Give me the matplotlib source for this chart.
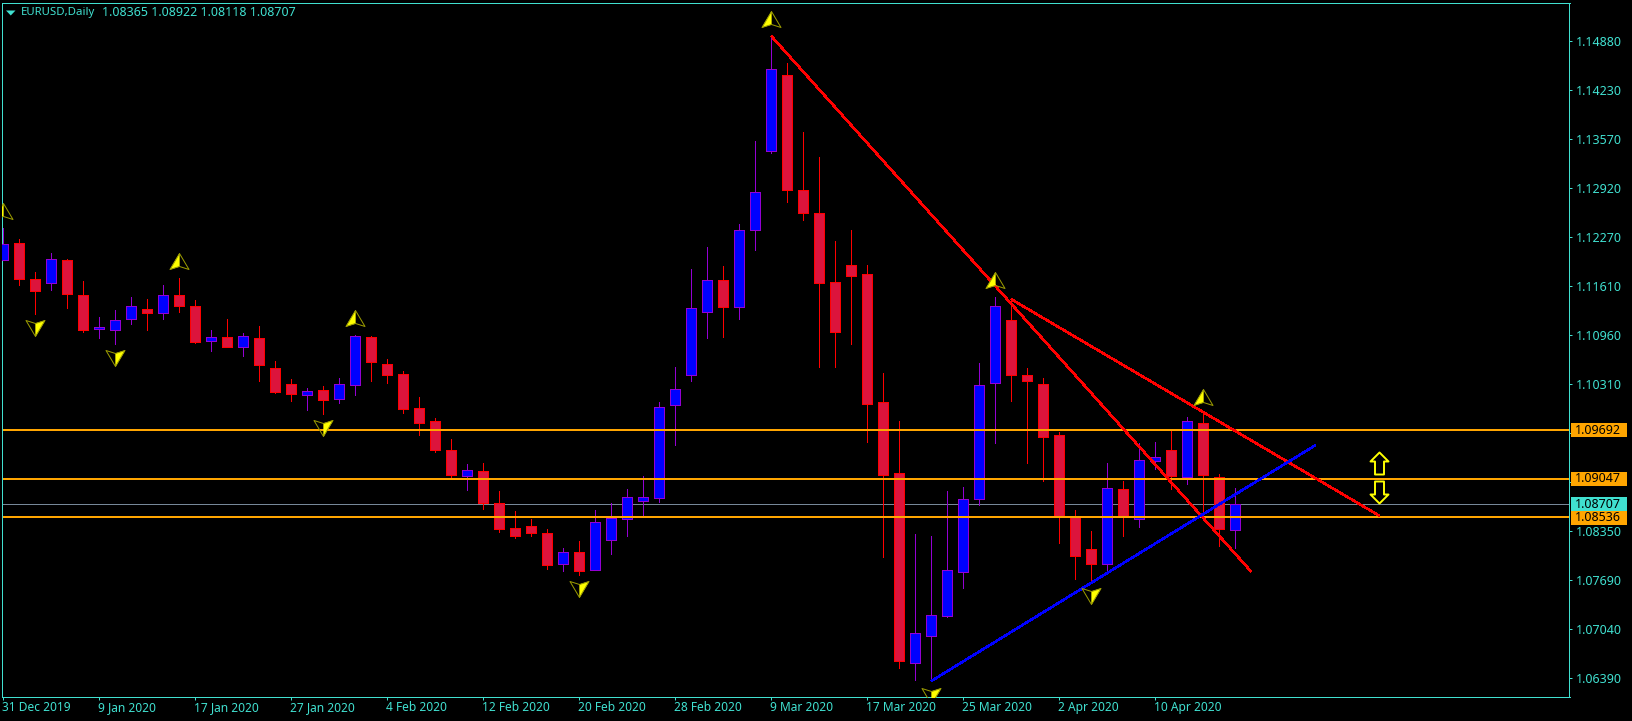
import numpy as np
import matplotlib
matplotlib.use("Agg")
import matplotlib.pyplot as plt
from matplotlib.path import Path
from matplotlib.patches import Rectangle, Polygon
from matplotlib.transforms import blended_transform_factory, ScaledTranslation

# ---- data (EURUSD daily, bar by bar) ----
highs = [1.12385,1.12243,1.11803,1.12056,1.11976,1.11683,1.11203,1.11296,1.11465,1.11443,
         1.11629,1.11719,1.11429,1.11029,1.11176,1.10985,1.11083,1.10616,1.10376,1.10252,
         1.10279,1.10385,1.10963,1.10949,1.10639,1.10479,1.10132,1.09852,1.09572,1.09239,
         1.09252,1.08879,1.08612,1.08509,1.08376,1.08119,1.08212,1.08629,1.08719,1.08909,
         1.09079,1.10065,1.10536,1.11843,1.12136,1.11883,1.12443,1.13549,1.14949,1.14585,
         1.13669,1.13336,1.12216,1.12363,1.11896,1.10456,1.09816,1.08309,1.08283,1.08883,
         1.08936,1.10589,1.11469,1.11439,1.10523,1.10389,1.09665,1.08629,1.08349,1.09256,
         1.09016,1.09523,1.09536,1.09683,1.09869,1.09919,1.09105,1.08922]
lows = [1.11963,1.11629,1.11247,1.11567,1.11327,1.11007,1.10927,1.10847,1.11113,1.11033,
        1.11176,1.11273,1.10856,1.10749,1.10807,1.10687,1.10349,1.10193,1.10083,1.09967,
        1.09913,1.10060,1.10167,1.10353,1.10327,1.09927,1.09633,1.09407,1.09073,1.08900,
        1.08647,1.08340,1.08256,1.08287,1.07843,1.07816,1.07763,1.07833,1.08043,1.08283,
        1.08549,1.08736,1.09496,1.10349,1.10927,1.10936,1.11176,1.12096,1.13389,1.12736,
        1.12496,1.10540,1.10540,1.10847,1.09540,1.08003,1.06527,1.06363,1.06349,1.07203,
        1.07589,1.08696,1.09523,1.10083,1.09260,1.09020,1.08193,1.07709,1.07669,1.07799,
        1.08283,1.08403,1.09176,1.08909,1.08976,1.08540,1.08149,1.08118]
opens = [1.11967,1.12185,1.11705,1.11660,1.11959,1.11492,1.11043,1.11033,1.11180,1.11305,
         1.11260,1.11492,1.11345,1.10887,1.10932,1.10807,1.10919,1.10519,1.10305,1.10167,
         1.10225,1.10113,1.10300,1.10932,1.10572,1.10443,1.09985,1.09812,1.09425,1.09087,
         1.09145,1.08719,1.08389,1.08416,1.08319,1.07905,1.08065,1.07833,1.08233,1.08513,
         1.08753,1.08793,1.10033,1.10425,1.11273,1.11692,1.11332,1.12367,1.13420,1.14425,
         1.12892,1.12585,1.11665,1.11892,1.11772,1.10065,1.09119,1.06585,1.06953,1.07220,
         1.07807,1.08780,1.10319,1.11159,1.10425,1.10305,1.09625,1.08532,1.08105,1.07913,
         1.08905,1.08505,1.09287,1.09425,1.09073,1.09785,1.09073,1.08365]
closes = [1.12172,1.11713,1.11553,1.11972,1.11513,1.11033,1.11069,1.11159,1.11345,1.11260,
          1.11492,1.11353,1.10873,1.10932,1.10807,1.10945,1.10567,1.10207,1.10180,1.10212,
          1.10100,1.10305,1.10945,1.10607,1.10433,1.09980,1.09793,1.09433,1.09100,1.09159,
          1.08727,1.08380,1.08287,1.08327,1.07900,1.08065,1.07820,1.08465,1.08527,1.08799,
          1.08799,1.09999,1.10239,1.11319,1.11692,1.11340,1.12359,1.12865,1.14505,1.12900,
          1.12593,1.11660,1.11007,1.11753,1.10047,1.09096,1.06620,1.06985,1.07225,1.07825,
          1.08772,1.10292,1.11345,1.10429,1.10353,1.09607,1.08549,1.08020,1.07913,1.08919,
          1.08549,1.09292,1.09332,1.09087,1.09812,1.09100,1.08380,1.08707]

x_tick_bars = [0, 6, 12, 18, 24, 30, 36, 42, 48, 54, 60, 66, 72]
x_tick_labels = ["31 Dec 2019", "9 Jan 2020", "17 Jan 2020", "27 Jan 2020", "4 Feb 2020",
                 "12 Feb 2020", "20 Feb 2020", "28 Feb 2020", "9 Mar 2020", "17 Mar 2020",
                 "25 Mar 2020", "2 Apr 2020", "10 Apr 2020"]
y_ticks = [1.06390, 1.07040, 1.07690, 1.08350, 1.09000, 1.09650, 1.10310, 1.10960,
           1.11610, 1.12270, 1.12920, 1.13570, 1.14230, 1.14880]
y_hidden = [1.09000, 1.09650]

level_lines = [1.09692, 1.09047, 1.08536]
bid = 1.08707

up_bars = [0, 11, 22, 48, 62, 75]
up_prices = [1.12620, 1.11956, 1.11191, 1.15180, 1.11700, 1.10138]
down_bars = [2, 7, 20, 36, 58, 68]
down_prices = [1.11054, 1.10656, 1.09721, 1.07574, 1.06151, 1.07481]

trend_red_a = ([48, 78], [1.14949, 1.07807])
trend_red_b = ([63, 86], [1.11439, 1.08553])
trend_blue = ([58, 82], [1.06349, 1.09492])

hollow_bar = 86
hollow_up_price = 1.09262
hollow_down_price = 1.08863

# ---- style ----
TURQ = "#40E0D0"
ORANGE = "#FFA500"
GREY = "#778899"
RED = "#FF0000"
CRIMSON = "#DC143C"
VIOLET = "#9400D3"
BLUE = "#0000FF"
FONT = "Noto Sans"
FS = 9.0
PX = 0.72

W, H = 1633, 721
fig = plt.figure(figsize=(W / 100, H / 100), dpi=100, facecolor="black")
L, R, T, B = 2.5, 1569.5, 2.5, 697.0
ax = fig.add_axes([L / W, 1 - B / H, (R - L) / W, (B - T) / H], facecolor="black")
ax.set_xlim(-0.05, 97.89)
ax.set_ylim(1.06136, 1.15396)

# bid line behind candles
ax.axhline(bid, color=GREY, lw=PX, zorder=1, antialiased=False)

o = np.array(opens); c = np.array(closes); h = np.array(highs); l = np.array(lows)
x = np.arange(len(o))
up = c >= o
ax.vlines(x[up], l[up], h[up], colors=VIOLET, lw=PX, zorder=2, antialiased=False)
ax.vlines(x[~up], l[~up], h[~up], colors=RED, lw=PX, zorder=2, antialiased=False)
bw = 10 / 16
ax.bar(x[up], (c - o)[up], bottom=o[up], width=bw, color=BLUE, edgecolor=VIOLET,
       linewidth=PX, zorder=3, antialiased=False)
ax.bar(x[~up], (o - c)[~up], bottom=c[~up], width=bw, color=CRIMSON, edgecolor=RED,
       linewidth=PX, zorder=3, antialiased=False)

# horizontal levels
for lv in level_lines:
    ax.plot([0, 97.89], [lv, lv], color=ORANGE, lw=2 * PX, zorder=5,
            antialiased=False, solid_capstyle="butt")

# trend lines
for (tx, ty), col in ((trend_red_a, RED), (trend_red_b, RED), (trend_blue, BLUE)):
    ax.plot(tx, ty, color=col, lw=1.1, zorder=6, solid_capstyle="butt", antialiased=False)

# zigzag arrow markers
whole_up = Path([(0, 8), (-9.5, -8), (0, -5), (9.5, -8), (0, 8)], closed=True)
half_up = Path([(0, 8), (-9.5, -8), (0, -5), (0, 8)], closed=True)
whole_dn = Path([(0, -8), (9.5, 8), (0, 5), (-9.5, 8), (0, -8)], closed=True)
half_dn = Path([(0, -8), (9.5, 8), (0, 5), (0, -8)], closed=True)
ms = 19 * PX
for bars, prices, whole, half in ((up_bars, up_prices, whole_up, half_up),
                                  (down_bars, down_prices, whole_dn, half_dn)):
    ax.plot(bars, prices, ls="none", marker=half, ms=ms, mfc="#FFFF00", mec="#FFFF00",
            mew=0.2, zorder=7)
    ax.plot(bars, prices, ls="none", marker=whole, ms=ms, mfc="none", mec="#9C9C00",
            mew=PX, zorder=7.1)

# hollow block arrows on the right
block_up = Path([(0, 11), (9, 2), (4.5, 2), (4.5, -11), (-4.5, -11), (-4.5, 2), (-9, 2), (0, 11)],
                closed=True)
block_dn = Path([(0, -11), (9, -2), (4.5, -2), (4.5, 11), (-4.5, 11), (-4.5, -2), (-9, -2), (0, -11)],
                closed=True)
for price, mk in ((hollow_up_price, block_up), (hollow_down_price, block_dn)):
    ax.plot([hollow_bar], [price], ls="none", marker=mk, ms=22 * PX, mfc="black",
            mec="#FFFF00", mew=1.4, zorder=8)

# frame and axes
for s in ("left", "right", "top", "bottom"):
    ax.spines[s].set_color(TURQ)
    ax.spines[s].set_linewidth(PX)
ax.yaxis.tick_right()
ax.set_yticks(y_ticks)
ax.set_yticklabels(["" if v in y_hidden else f"{v:.5f}" for v in y_ticks],
                   fontfamily=FONT, fontsize=FS, color=TURQ)
ax.tick_params(axis="y", length=2.2, width=PX, color=TURQ, pad=2.2)
ax.set_xticks(x_tick_bars)
ax.set_xticklabels(x_tick_labels, fontfamily=FONT, fontsize=8.6, color=TURQ, ha="left")
ax.tick_params(axis="x", length=2.2, width=PX, color=TURQ, pad=0.8)
shift = ScaledTranslation(-1.5 / 100, 0, fig.dpi_scale_trans)
for lab in ax.get_xticklabels():
    lab.set_transform(lab.get_transform() + shift)

# price tags on the right axis
bt = blended_transform_factory(ax.transAxes, ax.transData)
tags = [(level_lines[0], ORANGE), (level_lines[1], ORANGE), (bid, TURQ), (level_lines[2], ORANGE)]
bx0 = (1571 - L) / (R - L)
bwid = 56 / (R - L)
bh = 14 / 7500
for price, col in tags:
    ax.add_patch(Rectangle((bx0, price - bh / 2 - (0.00012 if price == level_lines[2] else 0)),
                           bwid, bh, transform=bt, facecolor=col,
                           edgecolor="none", clip_on=False, zorder=9))
    ax.text((1575.2 - L) / (R - L), price - (0.00012 if price == level_lines[2] else 0),
            f"{price:.5f}", transform=bt, color="black", va="center", ha="left",
            fontfamily=FONT, fontsize=FS, clip_on=False, zorder=10)

# header
fig.add_artist(Polygon([(6 / W, 1 - 10.5 / H), (15.5 / W, 1 - 10.5 / H), (10.75 / W, 1 - 15.5 / H)],
                       closed=True, facecolor=TURQ, edgecolor="none", transform=fig.transFigure))
fig.text(21 / W, 1 - 12.7 / H, "EURUSD,Daily", color=TURQ, fontfamily=FONT, fontsize=8.2,
         va="center", ha="left")
fig.text(102.5 / W, 1 - 12.7 / H, "1.08365 1.08922 1.08118 1.08707", color=TURQ,
         fontfamily=FONT, fontsize=FS, va="center", ha="left")

fig.savefig("out.png", dpi=100, facecolor="black")
